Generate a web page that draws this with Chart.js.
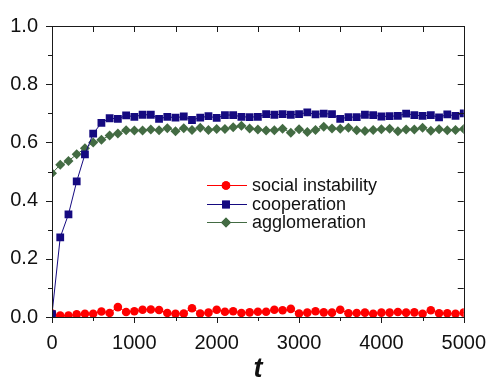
<!DOCTYPE html>
<html>
<head>
<meta charset="utf-8">
<script src="https://cdn.jsdelivr.net/npm/chart.js@4/dist/chart.umd.min.js"></script>
<style>
  html, body { margin: 0; padding: 0; background: #fff; }
  #wrap { width: 500px; height: 386px; }
</style>
</head>
<body>
<div id="wrap"><canvas id="c" width="500" height="386"></canvas></div>
<script>
// time steps (x)
const tSteps = [0, 100, 200, 300, 400, 500, 600, 700, 800, 900,
  1000, 1100, 1200, 1300, 1400, 1500, 1600, 1700, 1800, 1900,
  2000, 2100, 2200, 2300, 2400, 2500, 2600, 2700, 2800, 2900,
  3000, 3100, 3200, 3300, 3400, 3500, 3600, 3700, 3800, 3900,
  4000, 4100, 4200, 4300, 4400, 4500, 4600, 4700, 4800, 4900, 5000];

const socialInstability = [0.012, 0.005, 0.005, 0.009, 0.011, 0.011, 0.019, 0.014, 0.034, 0.017,
  0.020, 0.025, 0.026, 0.024, 0.014, 0.011, 0.012, 0.030, 0.012, 0.015,
  0.025, 0.018, 0.020, 0.014, 0.016, 0.018, 0.018, 0.025, 0.023, 0.028,
  0.012, 0.015, 0.020, 0.016, 0.015, 0.025, 0.013, 0.014, 0.015, 0.011,
  0.015, 0.015, 0.017, 0.015, 0.016, 0.011, 0.023, 0.013, 0.013, 0.011, 0.015];

const cooperation = [0.010, 0.274, 0.353, 0.466, 0.559, 0.630, 0.667, 0.683, 0.681, 0.693,
  0.688, 0.695, 0.695, 0.681, 0.688, 0.685, 0.689, 0.677, 0.685, 0.690,
  0.684, 0.694, 0.694, 0.688, 0.687, 0.688, 0.697, 0.695, 0.697, 0.695,
  0.697, 0.703, 0.696, 0.699, 0.697, 0.681, 0.687, 0.687, 0.695, 0.694,
  0.689, 0.690, 0.691, 0.699, 0.694, 0.691, 0.694, 0.686, 0.696, 0.691, 0.700];

const agglomeration = [0.494, 0.523, 0.536, 0.559, 0.580, 0.600, 0.609, 0.624, 0.631, 0.642,
  0.641, 0.641, 0.644, 0.642, 0.649, 0.638, 0.649, 0.643, 0.650, 0.643,
  0.646, 0.646, 0.652, 0.657, 0.648, 0.644, 0.641, 0.642, 0.647, 0.633,
  0.645, 0.636, 0.643, 0.654, 0.648, 0.647, 0.650, 0.642, 0.639, 0.643,
  0.645, 0.647, 0.638, 0.644, 0.644, 0.650, 0.640, 0.645, 0.642, 0.643, 0.646];

const seriesNames = ['social instability', 'cooperation', 'agglomeration'];

const RED = '#ff0000', BLUE = '#150a80', GREEN = '#436b43', INK = '#1a1a1a';
const FONT = 'Liberation Sans, Arial, Helvetica, sans-serif';

function pts(ys) { return tSteps.map((t, i) => ({ x: t, y: ys[i] })); }

// frame on all four sides + the little tick marks (outer on left/bottom, inner on top/right)
const frameTicks = {
  id: 'frameTicks',
  afterDraw(chart) {
    const { ctx, chartArea: a, scales: { x, y } } = chart;
    ctx.save();
    ctx.strokeStyle = INK;
    ctx.lineWidth = 1;
    ctx.beginPath();
    ctx.rect(Math.round(a.left) + 0.5, Math.round(a.top) + 0.5,
             Math.round(a.right - a.left), Math.round(a.bottom - a.top));
    for (let k = 0; k <= 10; k++) {
      const py = Math.round(y.getPixelForValue(k / 10)) + 0.5;
      const len = k % 2 === 0 ? 6 : 4;
      ctx.moveTo(a.left, py); ctx.lineTo(a.left - len, py);
      ctx.moveTo(a.right, py); ctx.lineTo(a.right - 6, py);
    }
    for (let v = 0; v <= 5000; v += 500) {
      const px = Math.round(x.getPixelForValue(v)) + 0.5;
      const len = v % 1000 === 0 ? 6 : 4;
      ctx.moveTo(px, a.bottom); ctx.lineTo(px, a.bottom + len);
      ctx.moveTo(px, a.top); ctx.lineTo(px, a.top + 6);
    }
    ctx.stroke();
    ctx.restore();
  }
};

// legend sitting inside the plot
const innerLegend = {
  id: 'innerLegend',
  afterDraw(chart) {
    const ctx = chart.ctx;
    const x0 = 207, x1 = 247, mx = 226, tx = 252, y0 = 185, dy = 18.5;
    ctx.save();
    ctx.font = '18px ' + FONT;
    ctx.textBaseline = 'middle';
    ctx.textAlign = 'left';
    seriesNames.forEach((name, i) => {
      const ds = chart.data.datasets.find(d => d.label === name);
      const yy = Math.round(y0 + i * dy) + 0.5;
      ctx.strokeStyle = ds.borderColor;
      ctx.lineWidth = 1;
      ctx.beginPath(); ctx.moveTo(x0, yy); ctx.lineTo(x1, yy); ctx.stroke();
      ctx.fillStyle = ds.pointBackgroundColor;
      Chart.helpers.drawPoint(ctx, {
        pointStyle: ds.pointStyle, radius: ds.pointRadius, borderWidth: 0, rotation: 0
      }, mx, yy);
      ctx.fill();
      ctx.fillStyle = '#111';
      ctx.fillText(name, tx, yy + 1);
    });
    ctx.restore();
  }
};

new Chart(document.getElementById('c'), {
  type: 'line',
  data: {
    datasets: [
      { label: seriesNames[0], data: pts(socialInstability), borderColor: RED, backgroundColor: RED,
        pointBackgroundColor: RED, pointBorderColor: RED, pointBorderWidth: 0,
        pointStyle: 'circle', pointRadius: 4.3, borderWidth: 1, order: 3 },
      { label: seriesNames[1], data: pts(cooperation), borderColor: BLUE, backgroundColor: BLUE,
        pointBackgroundColor: BLUE, pointBorderColor: BLUE, pointBorderWidth: 0,
        pointStyle: 'rect', pointRadius: 5.5, borderWidth: 1, order: 1 },
      { label: seriesNames[2], data: pts(agglomeration), borderColor: GREEN, backgroundColor: GREEN,
        pointBackgroundColor: GREEN, pointBorderColor: GREEN, pointBorderWidth: 0,
        pointStyle: 'rectRot', pointRadius: 5, borderWidth: 1, order: 2 },
    ]
  },
  options: {
    responsive: false,
    animation: false,
    layout: { padding: { top: 7, right: 24, left: 0, bottom: 0 } },
    plugins: { legend: { display: false }, tooltip: { enabled: false } },
    scales: {
      x: {
        type: 'linear', min: 0, max: 5000,
        afterFit: (s) => { s.height = 69; },
        grid: { display: false, drawTicks: false },
        border: { display: false },
        ticks: {
          stepSize: 500, padding: 14, color: '#111', maxRotation: 0, autoSkip: false,
          font: { family: FONT, size: 20 },
          callback: (v) => (v % 1000 === 0 ? String(v) : '')
        },
        title: {
          display: true, text: 't', color: '#111', padding: { top: 2, bottom: 0 },
          font: { family: FONT, size: 27, weight: 'bold', style: 'italic' }
        }
      },
      y: {
        min: 0, max: 1,
        afterFit: (s) => { s.width = 52; },
        grid: { display: false, drawTicks: false },
        border: { display: false },
        ticks: {
          stepSize: 0.1, padding: 14, color: '#111', autoSkip: false,
          font: { family: FONT, size: 20 },
          callback: (v) => (Math.round(v * 10) % 2 === 0 ? v.toFixed(1) : '')
        }
      }
    }
  },
  plugins: [frameTicks, innerLegend]
});
</script>
</body>
</html>
